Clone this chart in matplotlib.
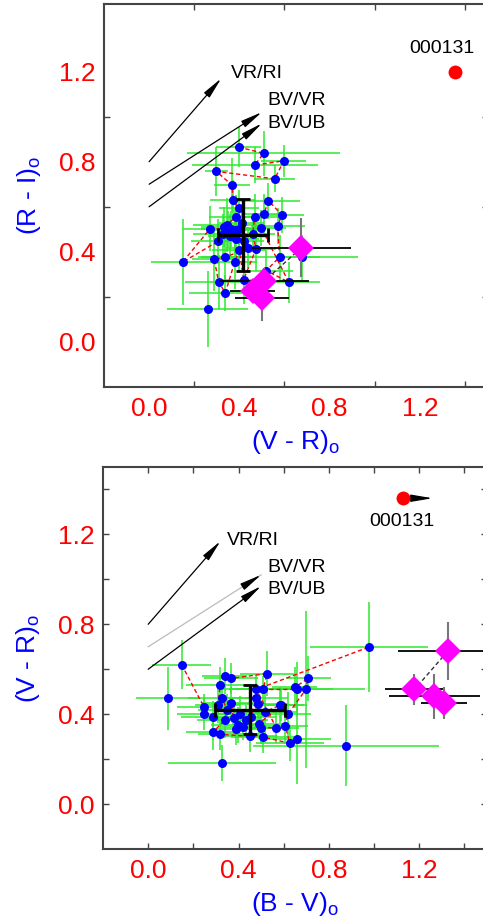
import numpy as np
import matplotlib.pyplot as plt
from matplotlib.ticker import FixedLocator

plt.rcParams['font.family'] = ['Liberation Sans', 'DejaVu Sans']
plt.rcParams['mathtext.fontset'] = 'custom'
plt.rcParams['mathtext.rm'] = 'Liberation Sans'

# ------------------------------------------------------------
# datos panel superior: (V-R)o vs (R-I)o  (orden temporal)
# ------------------------------------------------------------
vr_top = [0.397, 0.508, 0.468, 0.597, 0.557, 0.298, 0.369, 0.370, 0.398, 0.384,
          0.344, 0.326, 0.305, 0.148, 0.270, 0.363, 0.350, 0.330, 0.382, 0.400,
          0.360, 0.410, 0.385, 0.420, 0.440, 0.338, 0.289, 0.308, 0.338, 0.379,
          0.400, 0.419, 0.474, 0.459, 0.468, 0.508, 0.529, 0.588, 0.570, 0.578,
          0.519, 0.619, 0.498, 0.259, 0.676]
ri_top = [0.865, 0.837, 0.785, 0.804, 0.724, 0.757, 0.695, 0.628, 0.594, 0.554,
          0.520, 0.480, 0.446, 0.354, 0.502, 0.502, 0.500, 0.510, 0.495, 0.502,
          0.470, 0.530, 0.458, 0.450, 0.418, 0.376, 0.366, 0.265, 0.218, 0.354,
          0.406, 0.277, 0.413, 0.480, 0.556, 0.566, 0.627, 0.564, 0.515, 0.376,
          0.317, 0.265, 0.505, 0.147, 0.376]
vr_top_err = [0.10, 0.34, 0.28, 0.10, 0.09, 0.05, 0.08, 0.10, 0.09, 0.12,
              0.15, 0.13, 0.12, 0.14, 0.12, 0.10, 0.12, 0.10, 0.09, 0.11,
              0.10, 0.10, 0.10, 0.09, 0.10, 0.12, 0.10, 0.15, 0.16, 0.10,
              0.12, 0.12, 0.09, 0.10, 0.12, 0.10, 0.14, 0.10, 0.12, 0.35,
              0.12, 0.14, 0.11, 0.18, 0.08]
ri_top_err = [0.09, 0.10, 0.08, 0.07, 0.06, 0.11, 0.12, 0.09, 0.08, 0.10,
              0.12, 0.09, 0.10, 0.19, 0.10, 0.08, 0.08, 0.09, 0.10, 0.07,
              0.10, 0.08, 0.09, 0.08, 0.09, 0.10, 0.14, 0.12, 0.08, 0.12,
              0.09, 0.11, 0.10, 0.08, 0.10, 0.09, 0.08, 0.08, 0.08, 0.10,
              0.09, 0.09, 0.08, 0.17, 0.10]
n_track_top = 43

# diamantes (magenta) panel superior
vr_dia_top = [0.675, 0.51, 0.46, 0.50]
ri_dia_top = [0.418, 0.27, 0.225, 0.195]
vr_dia_top_err = [0.22, 0.20, 0.10, 0.12]
ri_dia_top_err = [0.13, 0.06, 0.05, 0.10]

# promedio y dispersión
vr_mean, ri_mean = 0.418, 0.476
vr_sd, ri_sd = 0.111, 0.16

# ------------------------------------------------------------
# datos panel inferior: (B-V)o vs (V-R)o  (orden temporal)
# ------------------------------------------------------------
bv_bot = [0.148, 0.247, 0.247, 0.286, 0.308, 0.319, 0.338, 0.367, 0.527, 0.508,
          0.659, 0.649, 0.708, 0.698, 0.619, 0.607, 0.627, 0.508, 0.449, 0.319,
          0.286, 0.338, 0.350, 0.327, 0.367, 0.378, 0.408, 0.397, 0.387, 0.419,
          0.431, 0.456, 0.479, 0.486, 0.519, 0.582, 0.590, 0.490, 0.498, 0.567,
          0.479, 0.978, 0.659, 0.876, 0.086, 0.327]
vr_bot = [0.621, 0.432, 0.400, 0.388, 0.440, 0.529, 0.569, 0.559, 0.581, 0.510,
          0.510, 0.519, 0.559, 0.510, 0.400, 0.348, 0.270, 0.299, 0.302, 0.310,
          0.319, 0.373, 0.418, 0.470, 0.450, 0.381, 0.400, 0.351, 0.332, 0.343,
          0.373, 0.388, 0.470, 0.447, 0.410, 0.440, 0.440, 0.358, 0.339, 0.340,
          0.510, 0.699, 0.288, 0.259, 0.470, 0.181]
bv_bot_err = [0.13, 0.12, 0.12, 0.14, 0.10, 0.15, 0.10, 0.12, 0.12, 0.12,
              0.30, 0.10, 0.10, 0.12, 0.10, 0.10, 0.15, 0.14, 0.12, 0.10,
              0.12, 0.12, 0.13, 0.15, 0.13, 0.12, 0.12, 0.12, 0.10, 0.10,
              0.10, 0.11, 0.14, 0.12, 0.14, 0.12, 0.10, 0.12, 0.10, 0.10,
              0.15, 0.26, 0.15, 0.41, 0.14, 0.24]
vr_bot_err = [0.11, 0.06, 0.07, 0.07, 0.08, 0.08, 0.08, 0.07, 0.10, 0.06,
              0.12, 0.09, 0.10, 0.35, 0.10, 0.08, 0.08, 0.07, 0.07, 0.07,
              0.08, 0.08, 0.07, 0.06, 0.07, 0.07, 0.08, 0.08, 0.07, 0.06,
              0.07, 0.07, 0.07, 0.06, 0.10, 0.08, 0.07, 0.07, 0.07, 0.07,
              0.07, 0.20, 0.20, 0.18, 0.14, 0.08]
n_track_bot = 42

bv_dia_bot = [1.326, 1.179, 1.267, 1.31]
vr_dia_bot = [0.68, 0.51, 0.48, 0.45]
bv_dia_bot_err = [0.22, 0.13, 0.20, 0.10]
vr_dia_bot_err = [0.13, 0.07, 0.10, 0.07]

bv_mean, vrb_mean = 0.45, 0.42
bv_sd, vrb_sd = 0.155, 0.11

# vectores de enrojecimiento: (x0, y0, x1, y1, etiqueta)
arrows = [(0.0, 0.80, 0.32, 1.17, "VR/RI"),
          (0.0, 0.70, 0.50, 1.02, "BV/VR"),
          (0.0, 0.60, 0.50, 0.97, "BV/UB")]
lab_top = [(0.364, 1.193), (0.524, 1.072), (0.524, 0.969)]
lab_bot = [(0.348, 1.171), (0.526, 1.051), (0.526, 0.955)]

# punto 000131
p131_top = (1.356, 1.196)
p131_bot = (1.127, 1.361)

# ============================================================
# FIGURA
# ============================================================
fig = plt.figure(figsize=(4.83, 9.23), dpi=100)
ax1 = fig.add_axes([104 / 483, (923 - 387) / 923, 383.5 / 483, 383 / 923])
ax2 = fig.add_axes([103 / 483, (923 - 849) / 923, 384 / 483, 382 / 923])

GREEN = "#2ee82e"
HEAD = "-|>,head_length=1.3,head_width=0.22"


def estilo(ax, xlabel, ylabel, ticks_major):
    ax.set_xlim(-0.2, 1.5)
    ax.set_ylim(-0.2, 1.5)
    ax.xaxis.set_major_locator(FixedLocator([0.0, 0.4, 0.8, 1.2]))
    ax.yaxis.set_major_locator(FixedLocator([0.0, 0.4, 0.8, 1.2]))
    ax.xaxis.set_minor_locator(FixedLocator([0.2, 0.6, 1.0, 1.4]))
    ax.yaxis.set_minor_locator(FixedLocator([0.2, 0.6, 1.0, 1.4]))
    ax.xaxis.set_major_formatter(plt.FuncFormatter(lambda v, p: f"{v:.1f}"))
    ax.yaxis.set_major_formatter(plt.FuncFormatter(lambda v, p: f"{v:.1f}"))
    ax.tick_params(which="both", direction="in", top=True, right=True,
                   color="#444444", width=1.0)
    ax.tick_params(which="major", length=4 if ticks_major else 0,
                   labelsize=19, labelcolor="red")
    ax.tick_params(which="minor", length=4)
    ax.tick_params(axis="x", which="major", pad=7)
    ax.tick_params(axis="y", which="major", pad=6)
    for s in ax.spines.values():
        s.set_color("#444444")
        s.set_linewidth(1.5)
    ax.set_xlabel(xlabel, fontsize=19, color="blue")
    ax.set_ylabel(ylabel, fontsize=19, color="blue")
    ax.xaxis.set_label_coords(0.5, -0.107)
    ax.yaxis.set_label_coords(-0.16, 0.5)


def flecha(ax, x0, y0, x1, y1):
    ax.annotate("", xy=(x1, y1), xytext=(x0, y0),
                arrowprops=dict(arrowstyle=HEAD, mutation_scale=10, lw=0.9,
                                color="black", shrinkA=0, shrinkB=0), zorder=2)


def vectores(ax, labels, gris_bv=False):
    for i, (x0, y0, x1, y1, txt) in enumerate(arrows):
        if gris_bv and txt == "BV/VR":
            ax.plot([x0, x1], [y0, y1], color="#bbbbbb", lw=0.9, zorder=2)
            flecha(ax, x1 - 0.06, y1 - 0.0384, x1, y1)
        else:
            flecha(ax, x0, y0, x1, y1)
        ax.text(labels[i][0], labels[i][1], txt, fontsize=14, ha="left",
                va="center", color="black")


def puntos(ax, x, y, xe, ye, n_track, xd, yd, xde, yde, xm, ym, xs, ys):
    ax.errorbar(x, y, xerr=xe, yerr=ye, fmt="none", ecolor=GREEN,
                elinewidth=1.1, capsize=0, zorder=1)
    ax.plot(x[:n_track], y[:n_track], color="red", lw=1.0, dashes=(3, 2), zorder=2)
    ax.plot(x, y, "o", color="blue", markersize=6.5, markeredgewidth=0, zorder=3)
    ax.errorbar(xm, ym, xerr=xs, yerr=ys, fmt="none", ecolor="black",
                elinewidth=2.4, capsize=5, capthick=2, zorder=4)
    ax.errorbar(xd, yd, xerr=xde, fmt="none", ecolor="black",
                elinewidth=1.3, capsize=0, zorder=4)
    ax.errorbar(xd, yd, yerr=yde, fmt="none", ecolor="#777777",
                elinewidth=1.5, capsize=0, zorder=4)
    ax.plot(xd[:2], yd[:2], color="#333333", lw=1.0, dashes=(3, 2), zorder=4)
    ax.plot(xd, yd, "D", color="magenta", markersize=13, markeredgewidth=0, zorder=5)


# --- panel superior ---
estilo(ax1, r"(V - R)$_\mathregular{o}$", r"(R - I)$_\mathregular{o}$", False)
ax1.yaxis.set_minor_locator(FixedLocator([0.2, 0.6, 1.0]))
vectores(ax1, lab_top)
puntos(ax1, np.array(vr_top), np.array(ri_top), vr_top_err, ri_top_err, n_track_top,
       vr_dia_top, ri_dia_top, vr_dia_top_err, ri_dia_top_err,
       vr_mean, ri_mean, vr_sd, ri_sd)
ax1.plot(*p131_top, "o", color="red", markersize=10, markeredgewidth=0, zorder=5)
ax1.text(1.296, 1.304, "000131", fontsize=14, ha="center", va="center")

# --- panel inferior ---
estilo(ax2, r"(B - V)$_\mathregular{o}$", r"(V - R)$_\mathregular{o}$", True)
vectores(ax2, lab_bot, gris_bv=True)
puntos(ax2, np.array(bv_bot), np.array(vr_bot), bv_bot_err, vr_bot_err, n_track_bot,
       bv_dia_bot, vr_dia_bot, bv_dia_bot_err, vr_dia_bot_err,
       bv_mean, vrb_mean, bv_sd, vrb_sd)
ax2.plot(*p131_bot, "o", color="red", markersize=10, markeredgewidth=0, zorder=5)
flecha(ax2, 1.16, p131_bot[1], 1.259, p131_bot[1])
ax2.text(1.123, 1.258, "000131", fontsize=14, ha="center", va="center")

fig.savefig("out.png", dpi=100)
